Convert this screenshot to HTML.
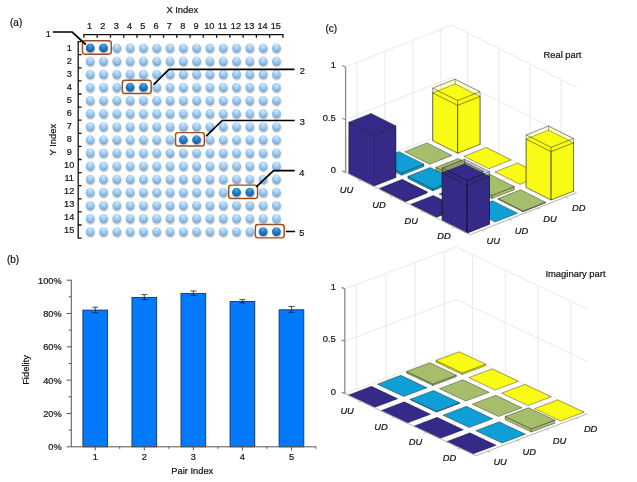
<!DOCTYPE html>
<html lang="en"><head><meta charset="utf-8"><title>Figure</title>
<style>html,body{margin:0;padding:0;background:#fff}body{width:637px;height:482px;overflow:hidden}svg{display:block;font-family:'Liberation Sans', Arial, sans-serif;filter:blur(0.32px)}text{stroke:#151515;stroke-width:0.22px}</style>
</head><body>
<svg width="637" height="482" viewBox="0 0 637 482">
<defs>
<radialGradient id="sl" cx="0.5" cy="0.32" r="0.72" fx="0.5" fy="0.2"><stop offset="0" stop-color="#d2e8fa"/><stop offset="0.4" stop-color="#a9d1f2"/><stop offset="0.75" stop-color="#86bbe9"/><stop offset="1" stop-color="#5f9bd4"/></radialGradient>
<radialGradient id="sd" cx="0.5" cy="0.32" r="0.72" fx="0.5" fy="0.2"><stop offset="0" stop-color="#5aa8e2"/><stop offset="0.4" stop-color="#2c82cc"/><stop offset="0.75" stop-color="#1a69b3"/><stop offset="1" stop-color="#124f8e"/></radialGradient>
<radialGradient id="shd" cx="0.5" cy="0.5" r="0.5"><stop offset="0" stop-color="#000" stop-opacity="0.45"/><stop offset="0.6" stop-color="#000" stop-opacity="0.25"/><stop offset="1" stop-color="#000" stop-opacity="0"/></radialGradient>
</defs>
<rect width="637" height="482" fill="#fff"/>
<g id="panel-a">
<text x="10" y="25.8" font-size="10" text-anchor="start" fill="#151515">(a)</text>
<text x="182.3" y="12.9" font-size="9.4" text-anchor="middle" fill="#151515">X Index</text>
<text x="56.2" y="139.6" font-size="9.4" text-anchor="middle" fill="#151515" transform="rotate(-90 56.2 139.6)">Y Index</text>
<path d="M83.3 34.6H283.55M83.9 34.6V37.8M97.17 34.6V37.8M110.44 34.6V37.8M123.71 34.6V37.8M136.98 34.6V37.8M150.25 34.6V37.8M163.52 34.6V37.8M176.79 34.6V37.8M190.06 34.6V37.8M203.33 34.6V37.8M216.6 34.6V37.8M229.87 34.6V37.8M243.14 34.6V37.8M256.41 34.6V37.8M269.68 34.6V37.8M282.95 34.6V37.8M78.2 41V238.7M78.2 41.6H81.6M78.2 54.7H81.6M78.2 67.8H81.6M78.2 80.9H81.6M78.2 94H81.6M78.2 107.1H81.6M78.2 120.2H81.6M78.2 133.3H81.6M78.2 146.4H81.6M78.2 159.5H81.6M78.2 172.6H81.6M78.2 185.7H81.6M78.2 198.8H81.6M78.2 211.9H81.6M78.2 225H81.6M78.2 238.1H81.6" stroke="#111" stroke-width="1.3" fill="none"/>
<text x="89.6" y="28.5" font-size="9.2" text-anchor="middle" fill="#151515">1</text>
<text x="69.2" y="51" font-size="9.2" text-anchor="middle" fill="#151515">1</text>
<text x="102.9" y="28.5" font-size="9.2" text-anchor="middle" fill="#151515">2</text>
<text x="69.2" y="64.02" font-size="9.2" text-anchor="middle" fill="#151515">2</text>
<text x="116.2" y="28.5" font-size="9.2" text-anchor="middle" fill="#151515">3</text>
<text x="69.2" y="77.04" font-size="9.2" text-anchor="middle" fill="#151515">3</text>
<text x="129.5" y="28.5" font-size="9.2" text-anchor="middle" fill="#151515">4</text>
<text x="69.2" y="90.06" font-size="9.2" text-anchor="middle" fill="#151515">4</text>
<text x="142.8" y="28.5" font-size="9.2" text-anchor="middle" fill="#151515">5</text>
<text x="69.2" y="103.08" font-size="9.2" text-anchor="middle" fill="#151515">5</text>
<text x="156.1" y="28.5" font-size="9.2" text-anchor="middle" fill="#151515">6</text>
<text x="69.2" y="116.1" font-size="9.2" text-anchor="middle" fill="#151515">6</text>
<text x="169.4" y="28.5" font-size="9.2" text-anchor="middle" fill="#151515">7</text>
<text x="69.2" y="129.12" font-size="9.2" text-anchor="middle" fill="#151515">7</text>
<text x="182.7" y="28.5" font-size="9.2" text-anchor="middle" fill="#151515">8</text>
<text x="69.2" y="142.14" font-size="9.2" text-anchor="middle" fill="#151515">8</text>
<text x="196" y="28.5" font-size="9.2" text-anchor="middle" fill="#151515">9</text>
<text x="69.2" y="155.16" font-size="9.2" text-anchor="middle" fill="#151515">9</text>
<text x="209.3" y="28.5" font-size="9.2" text-anchor="middle" fill="#151515">10</text>
<text x="69.2" y="168.18" font-size="9.2" text-anchor="middle" fill="#151515">10</text>
<text x="222.6" y="28.5" font-size="9.2" text-anchor="middle" fill="#151515">11</text>
<text x="69.2" y="181.2" font-size="9.2" text-anchor="middle" fill="#151515">11</text>
<text x="235.9" y="28.5" font-size="9.2" text-anchor="middle" fill="#151515">12</text>
<text x="69.2" y="194.22" font-size="9.2" text-anchor="middle" fill="#151515">12</text>
<text x="249.2" y="28.5" font-size="9.2" text-anchor="middle" fill="#151515">13</text>
<text x="69.2" y="207.24" font-size="9.2" text-anchor="middle" fill="#151515">13</text>
<text x="262.5" y="28.5" font-size="9.2" text-anchor="middle" fill="#151515">14</text>
<text x="69.2" y="220.26" font-size="9.2" text-anchor="middle" fill="#151515">14</text>
<text x="275.8" y="28.5" font-size="9.2" text-anchor="middle" fill="#151515">15</text>
<text x="69.2" y="233.28" font-size="9.2" text-anchor="middle" fill="#151515">15</text>
<circle cx="90.5" cy="49.5" r="5.5" fill="url(#shd)"/>
<circle cx="103.8" cy="49.5" r="5.5" fill="url(#shd)"/>
<circle cx="117.1" cy="49.5" r="5.5" fill="url(#shd)"/>
<circle cx="130.4" cy="49.5" r="5.5" fill="url(#shd)"/>
<circle cx="143.7" cy="49.5" r="5.5" fill="url(#shd)"/>
<circle cx="157" cy="49.5" r="5.5" fill="url(#shd)"/>
<circle cx="170.3" cy="49.5" r="5.5" fill="url(#shd)"/>
<circle cx="183.6" cy="49.5" r="5.5" fill="url(#shd)"/>
<circle cx="196.9" cy="49.5" r="5.5" fill="url(#shd)"/>
<circle cx="210.2" cy="49.5" r="5.5" fill="url(#shd)"/>
<circle cx="223.5" cy="49.5" r="5.5" fill="url(#shd)"/>
<circle cx="236.8" cy="49.5" r="5.5" fill="url(#shd)"/>
<circle cx="250.1" cy="49.5" r="5.5" fill="url(#shd)"/>
<circle cx="263.4" cy="49.5" r="5.5" fill="url(#shd)"/>
<circle cx="276.7" cy="49.5" r="5.5" fill="url(#shd)"/>
<circle cx="90.5" cy="62.62" r="5.5" fill="url(#shd)"/>
<circle cx="103.8" cy="62.62" r="5.5" fill="url(#shd)"/>
<circle cx="117.1" cy="62.62" r="5.5" fill="url(#shd)"/>
<circle cx="130.4" cy="62.62" r="5.5" fill="url(#shd)"/>
<circle cx="143.7" cy="62.62" r="5.5" fill="url(#shd)"/>
<circle cx="157" cy="62.62" r="5.5" fill="url(#shd)"/>
<circle cx="170.3" cy="62.62" r="5.5" fill="url(#shd)"/>
<circle cx="183.6" cy="62.62" r="5.5" fill="url(#shd)"/>
<circle cx="196.9" cy="62.62" r="5.5" fill="url(#shd)"/>
<circle cx="210.2" cy="62.62" r="5.5" fill="url(#shd)"/>
<circle cx="223.5" cy="62.62" r="5.5" fill="url(#shd)"/>
<circle cx="236.8" cy="62.62" r="5.5" fill="url(#shd)"/>
<circle cx="250.1" cy="62.62" r="5.5" fill="url(#shd)"/>
<circle cx="263.4" cy="62.62" r="5.5" fill="url(#shd)"/>
<circle cx="276.7" cy="62.62" r="5.5" fill="url(#shd)"/>
<circle cx="90.5" cy="75.74" r="5.5" fill="url(#shd)"/>
<circle cx="103.8" cy="75.74" r="5.5" fill="url(#shd)"/>
<circle cx="117.1" cy="75.74" r="5.5" fill="url(#shd)"/>
<circle cx="130.4" cy="75.74" r="5.5" fill="url(#shd)"/>
<circle cx="143.7" cy="75.74" r="5.5" fill="url(#shd)"/>
<circle cx="157" cy="75.74" r="5.5" fill="url(#shd)"/>
<circle cx="170.3" cy="75.74" r="5.5" fill="url(#shd)"/>
<circle cx="183.6" cy="75.74" r="5.5" fill="url(#shd)"/>
<circle cx="196.9" cy="75.74" r="5.5" fill="url(#shd)"/>
<circle cx="210.2" cy="75.74" r="5.5" fill="url(#shd)"/>
<circle cx="223.5" cy="75.74" r="5.5" fill="url(#shd)"/>
<circle cx="236.8" cy="75.74" r="5.5" fill="url(#shd)"/>
<circle cx="250.1" cy="75.74" r="5.5" fill="url(#shd)"/>
<circle cx="263.4" cy="75.74" r="5.5" fill="url(#shd)"/>
<circle cx="276.7" cy="75.74" r="5.5" fill="url(#shd)"/>
<circle cx="90.5" cy="88.86" r="5.5" fill="url(#shd)"/>
<circle cx="103.8" cy="88.86" r="5.5" fill="url(#shd)"/>
<circle cx="117.1" cy="88.86" r="5.5" fill="url(#shd)"/>
<circle cx="130.4" cy="88.86" r="5.5" fill="url(#shd)"/>
<circle cx="143.7" cy="88.86" r="5.5" fill="url(#shd)"/>
<circle cx="157" cy="88.86" r="5.5" fill="url(#shd)"/>
<circle cx="170.3" cy="88.86" r="5.5" fill="url(#shd)"/>
<circle cx="183.6" cy="88.86" r="5.5" fill="url(#shd)"/>
<circle cx="196.9" cy="88.86" r="5.5" fill="url(#shd)"/>
<circle cx="210.2" cy="88.86" r="5.5" fill="url(#shd)"/>
<circle cx="223.5" cy="88.86" r="5.5" fill="url(#shd)"/>
<circle cx="236.8" cy="88.86" r="5.5" fill="url(#shd)"/>
<circle cx="250.1" cy="88.86" r="5.5" fill="url(#shd)"/>
<circle cx="263.4" cy="88.86" r="5.5" fill="url(#shd)"/>
<circle cx="276.7" cy="88.86" r="5.5" fill="url(#shd)"/>
<circle cx="90.5" cy="101.98" r="5.5" fill="url(#shd)"/>
<circle cx="103.8" cy="101.98" r="5.5" fill="url(#shd)"/>
<circle cx="117.1" cy="101.98" r="5.5" fill="url(#shd)"/>
<circle cx="130.4" cy="101.98" r="5.5" fill="url(#shd)"/>
<circle cx="143.7" cy="101.98" r="5.5" fill="url(#shd)"/>
<circle cx="157" cy="101.98" r="5.5" fill="url(#shd)"/>
<circle cx="170.3" cy="101.98" r="5.5" fill="url(#shd)"/>
<circle cx="183.6" cy="101.98" r="5.5" fill="url(#shd)"/>
<circle cx="196.9" cy="101.98" r="5.5" fill="url(#shd)"/>
<circle cx="210.2" cy="101.98" r="5.5" fill="url(#shd)"/>
<circle cx="223.5" cy="101.98" r="5.5" fill="url(#shd)"/>
<circle cx="236.8" cy="101.98" r="5.5" fill="url(#shd)"/>
<circle cx="250.1" cy="101.98" r="5.5" fill="url(#shd)"/>
<circle cx="263.4" cy="101.98" r="5.5" fill="url(#shd)"/>
<circle cx="276.7" cy="101.98" r="5.5" fill="url(#shd)"/>
<circle cx="90.5" cy="115.1" r="5.5" fill="url(#shd)"/>
<circle cx="103.8" cy="115.1" r="5.5" fill="url(#shd)"/>
<circle cx="117.1" cy="115.1" r="5.5" fill="url(#shd)"/>
<circle cx="130.4" cy="115.1" r="5.5" fill="url(#shd)"/>
<circle cx="143.7" cy="115.1" r="5.5" fill="url(#shd)"/>
<circle cx="157" cy="115.1" r="5.5" fill="url(#shd)"/>
<circle cx="170.3" cy="115.1" r="5.5" fill="url(#shd)"/>
<circle cx="183.6" cy="115.1" r="5.5" fill="url(#shd)"/>
<circle cx="196.9" cy="115.1" r="5.5" fill="url(#shd)"/>
<circle cx="210.2" cy="115.1" r="5.5" fill="url(#shd)"/>
<circle cx="223.5" cy="115.1" r="5.5" fill="url(#shd)"/>
<circle cx="236.8" cy="115.1" r="5.5" fill="url(#shd)"/>
<circle cx="250.1" cy="115.1" r="5.5" fill="url(#shd)"/>
<circle cx="263.4" cy="115.1" r="5.5" fill="url(#shd)"/>
<circle cx="276.7" cy="115.1" r="5.5" fill="url(#shd)"/>
<circle cx="90.5" cy="128.22" r="5.5" fill="url(#shd)"/>
<circle cx="103.8" cy="128.22" r="5.5" fill="url(#shd)"/>
<circle cx="117.1" cy="128.22" r="5.5" fill="url(#shd)"/>
<circle cx="130.4" cy="128.22" r="5.5" fill="url(#shd)"/>
<circle cx="143.7" cy="128.22" r="5.5" fill="url(#shd)"/>
<circle cx="157" cy="128.22" r="5.5" fill="url(#shd)"/>
<circle cx="170.3" cy="128.22" r="5.5" fill="url(#shd)"/>
<circle cx="183.6" cy="128.22" r="5.5" fill="url(#shd)"/>
<circle cx="196.9" cy="128.22" r="5.5" fill="url(#shd)"/>
<circle cx="210.2" cy="128.22" r="5.5" fill="url(#shd)"/>
<circle cx="223.5" cy="128.22" r="5.5" fill="url(#shd)"/>
<circle cx="236.8" cy="128.22" r="5.5" fill="url(#shd)"/>
<circle cx="250.1" cy="128.22" r="5.5" fill="url(#shd)"/>
<circle cx="263.4" cy="128.22" r="5.5" fill="url(#shd)"/>
<circle cx="276.7" cy="128.22" r="5.5" fill="url(#shd)"/>
<circle cx="90.5" cy="141.34" r="5.5" fill="url(#shd)"/>
<circle cx="103.8" cy="141.34" r="5.5" fill="url(#shd)"/>
<circle cx="117.1" cy="141.34" r="5.5" fill="url(#shd)"/>
<circle cx="130.4" cy="141.34" r="5.5" fill="url(#shd)"/>
<circle cx="143.7" cy="141.34" r="5.5" fill="url(#shd)"/>
<circle cx="157" cy="141.34" r="5.5" fill="url(#shd)"/>
<circle cx="170.3" cy="141.34" r="5.5" fill="url(#shd)"/>
<circle cx="183.6" cy="141.34" r="5.5" fill="url(#shd)"/>
<circle cx="196.9" cy="141.34" r="5.5" fill="url(#shd)"/>
<circle cx="210.2" cy="141.34" r="5.5" fill="url(#shd)"/>
<circle cx="223.5" cy="141.34" r="5.5" fill="url(#shd)"/>
<circle cx="236.8" cy="141.34" r="5.5" fill="url(#shd)"/>
<circle cx="250.1" cy="141.34" r="5.5" fill="url(#shd)"/>
<circle cx="263.4" cy="141.34" r="5.5" fill="url(#shd)"/>
<circle cx="276.7" cy="141.34" r="5.5" fill="url(#shd)"/>
<circle cx="90.5" cy="154.46" r="5.5" fill="url(#shd)"/>
<circle cx="103.8" cy="154.46" r="5.5" fill="url(#shd)"/>
<circle cx="117.1" cy="154.46" r="5.5" fill="url(#shd)"/>
<circle cx="130.4" cy="154.46" r="5.5" fill="url(#shd)"/>
<circle cx="143.7" cy="154.46" r="5.5" fill="url(#shd)"/>
<circle cx="157" cy="154.46" r="5.5" fill="url(#shd)"/>
<circle cx="170.3" cy="154.46" r="5.5" fill="url(#shd)"/>
<circle cx="183.6" cy="154.46" r="5.5" fill="url(#shd)"/>
<circle cx="196.9" cy="154.46" r="5.5" fill="url(#shd)"/>
<circle cx="210.2" cy="154.46" r="5.5" fill="url(#shd)"/>
<circle cx="223.5" cy="154.46" r="5.5" fill="url(#shd)"/>
<circle cx="236.8" cy="154.46" r="5.5" fill="url(#shd)"/>
<circle cx="250.1" cy="154.46" r="5.5" fill="url(#shd)"/>
<circle cx="263.4" cy="154.46" r="5.5" fill="url(#shd)"/>
<circle cx="276.7" cy="154.46" r="5.5" fill="url(#shd)"/>
<circle cx="90.5" cy="167.58" r="5.5" fill="url(#shd)"/>
<circle cx="103.8" cy="167.58" r="5.5" fill="url(#shd)"/>
<circle cx="117.1" cy="167.58" r="5.5" fill="url(#shd)"/>
<circle cx="130.4" cy="167.58" r="5.5" fill="url(#shd)"/>
<circle cx="143.7" cy="167.58" r="5.5" fill="url(#shd)"/>
<circle cx="157" cy="167.58" r="5.5" fill="url(#shd)"/>
<circle cx="170.3" cy="167.58" r="5.5" fill="url(#shd)"/>
<circle cx="183.6" cy="167.58" r="5.5" fill="url(#shd)"/>
<circle cx="196.9" cy="167.58" r="5.5" fill="url(#shd)"/>
<circle cx="210.2" cy="167.58" r="5.5" fill="url(#shd)"/>
<circle cx="223.5" cy="167.58" r="5.5" fill="url(#shd)"/>
<circle cx="236.8" cy="167.58" r="5.5" fill="url(#shd)"/>
<circle cx="250.1" cy="167.58" r="5.5" fill="url(#shd)"/>
<circle cx="263.4" cy="167.58" r="5.5" fill="url(#shd)"/>
<circle cx="276.7" cy="167.58" r="5.5" fill="url(#shd)"/>
<circle cx="90.5" cy="180.7" r="5.5" fill="url(#shd)"/>
<circle cx="103.8" cy="180.7" r="5.5" fill="url(#shd)"/>
<circle cx="117.1" cy="180.7" r="5.5" fill="url(#shd)"/>
<circle cx="130.4" cy="180.7" r="5.5" fill="url(#shd)"/>
<circle cx="143.7" cy="180.7" r="5.5" fill="url(#shd)"/>
<circle cx="157" cy="180.7" r="5.5" fill="url(#shd)"/>
<circle cx="170.3" cy="180.7" r="5.5" fill="url(#shd)"/>
<circle cx="183.6" cy="180.7" r="5.5" fill="url(#shd)"/>
<circle cx="196.9" cy="180.7" r="5.5" fill="url(#shd)"/>
<circle cx="210.2" cy="180.7" r="5.5" fill="url(#shd)"/>
<circle cx="223.5" cy="180.7" r="5.5" fill="url(#shd)"/>
<circle cx="236.8" cy="180.7" r="5.5" fill="url(#shd)"/>
<circle cx="250.1" cy="180.7" r="5.5" fill="url(#shd)"/>
<circle cx="263.4" cy="180.7" r="5.5" fill="url(#shd)"/>
<circle cx="276.7" cy="180.7" r="5.5" fill="url(#shd)"/>
<circle cx="90.5" cy="193.82" r="5.5" fill="url(#shd)"/>
<circle cx="103.8" cy="193.82" r="5.5" fill="url(#shd)"/>
<circle cx="117.1" cy="193.82" r="5.5" fill="url(#shd)"/>
<circle cx="130.4" cy="193.82" r="5.5" fill="url(#shd)"/>
<circle cx="143.7" cy="193.82" r="5.5" fill="url(#shd)"/>
<circle cx="157" cy="193.82" r="5.5" fill="url(#shd)"/>
<circle cx="170.3" cy="193.82" r="5.5" fill="url(#shd)"/>
<circle cx="183.6" cy="193.82" r="5.5" fill="url(#shd)"/>
<circle cx="196.9" cy="193.82" r="5.5" fill="url(#shd)"/>
<circle cx="210.2" cy="193.82" r="5.5" fill="url(#shd)"/>
<circle cx="223.5" cy="193.82" r="5.5" fill="url(#shd)"/>
<circle cx="236.8" cy="193.82" r="5.5" fill="url(#shd)"/>
<circle cx="250.1" cy="193.82" r="5.5" fill="url(#shd)"/>
<circle cx="263.4" cy="193.82" r="5.5" fill="url(#shd)"/>
<circle cx="276.7" cy="193.82" r="5.5" fill="url(#shd)"/>
<circle cx="90.5" cy="206.94" r="5.5" fill="url(#shd)"/>
<circle cx="103.8" cy="206.94" r="5.5" fill="url(#shd)"/>
<circle cx="117.1" cy="206.94" r="5.5" fill="url(#shd)"/>
<circle cx="130.4" cy="206.94" r="5.5" fill="url(#shd)"/>
<circle cx="143.7" cy="206.94" r="5.5" fill="url(#shd)"/>
<circle cx="157" cy="206.94" r="5.5" fill="url(#shd)"/>
<circle cx="170.3" cy="206.94" r="5.5" fill="url(#shd)"/>
<circle cx="183.6" cy="206.94" r="5.5" fill="url(#shd)"/>
<circle cx="196.9" cy="206.94" r="5.5" fill="url(#shd)"/>
<circle cx="210.2" cy="206.94" r="5.5" fill="url(#shd)"/>
<circle cx="223.5" cy="206.94" r="5.5" fill="url(#shd)"/>
<circle cx="236.8" cy="206.94" r="5.5" fill="url(#shd)"/>
<circle cx="250.1" cy="206.94" r="5.5" fill="url(#shd)"/>
<circle cx="263.4" cy="206.94" r="5.5" fill="url(#shd)"/>
<circle cx="276.7" cy="206.94" r="5.5" fill="url(#shd)"/>
<circle cx="90.5" cy="220.06" r="5.5" fill="url(#shd)"/>
<circle cx="103.8" cy="220.06" r="5.5" fill="url(#shd)"/>
<circle cx="117.1" cy="220.06" r="5.5" fill="url(#shd)"/>
<circle cx="130.4" cy="220.06" r="5.5" fill="url(#shd)"/>
<circle cx="143.7" cy="220.06" r="5.5" fill="url(#shd)"/>
<circle cx="157" cy="220.06" r="5.5" fill="url(#shd)"/>
<circle cx="170.3" cy="220.06" r="5.5" fill="url(#shd)"/>
<circle cx="183.6" cy="220.06" r="5.5" fill="url(#shd)"/>
<circle cx="196.9" cy="220.06" r="5.5" fill="url(#shd)"/>
<circle cx="210.2" cy="220.06" r="5.5" fill="url(#shd)"/>
<circle cx="223.5" cy="220.06" r="5.5" fill="url(#shd)"/>
<circle cx="236.8" cy="220.06" r="5.5" fill="url(#shd)"/>
<circle cx="250.1" cy="220.06" r="5.5" fill="url(#shd)"/>
<circle cx="263.4" cy="220.06" r="5.5" fill="url(#shd)"/>
<circle cx="276.7" cy="220.06" r="5.5" fill="url(#shd)"/>
<circle cx="90.5" cy="233.18" r="5.5" fill="url(#shd)"/>
<circle cx="103.8" cy="233.18" r="5.5" fill="url(#shd)"/>
<circle cx="117.1" cy="233.18" r="5.5" fill="url(#shd)"/>
<circle cx="130.4" cy="233.18" r="5.5" fill="url(#shd)"/>
<circle cx="143.7" cy="233.18" r="5.5" fill="url(#shd)"/>
<circle cx="157" cy="233.18" r="5.5" fill="url(#shd)"/>
<circle cx="170.3" cy="233.18" r="5.5" fill="url(#shd)"/>
<circle cx="183.6" cy="233.18" r="5.5" fill="url(#shd)"/>
<circle cx="196.9" cy="233.18" r="5.5" fill="url(#shd)"/>
<circle cx="210.2" cy="233.18" r="5.5" fill="url(#shd)"/>
<circle cx="223.5" cy="233.18" r="5.5" fill="url(#shd)"/>
<circle cx="236.8" cy="233.18" r="5.5" fill="url(#shd)"/>
<circle cx="250.1" cy="233.18" r="5.5" fill="url(#shd)"/>
<circle cx="263.4" cy="233.18" r="5.5" fill="url(#shd)"/>
<circle cx="276.7" cy="233.18" r="5.5" fill="url(#shd)"/>
<circle cx="90.2" cy="47.9" r="4.4" fill="url(#sd)"/>
<circle cx="103.5" cy="47.9" r="4.4" fill="url(#sd)"/>
<circle cx="116.8" cy="47.9" r="4.4" fill="url(#sl)"/>
<circle cx="130.1" cy="47.9" r="4.4" fill="url(#sl)"/>
<circle cx="143.4" cy="47.9" r="4.4" fill="url(#sl)"/>
<circle cx="156.7" cy="47.9" r="4.4" fill="url(#sl)"/>
<circle cx="170" cy="47.9" r="4.4" fill="url(#sl)"/>
<circle cx="183.3" cy="47.9" r="4.4" fill="url(#sl)"/>
<circle cx="196.6" cy="47.9" r="4.4" fill="url(#sl)"/>
<circle cx="209.9" cy="47.9" r="4.4" fill="url(#sl)"/>
<circle cx="223.2" cy="47.9" r="4.4" fill="url(#sl)"/>
<circle cx="236.5" cy="47.9" r="4.4" fill="url(#sl)"/>
<circle cx="249.8" cy="47.9" r="4.4" fill="url(#sl)"/>
<circle cx="263.1" cy="47.9" r="4.4" fill="url(#sl)"/>
<circle cx="276.4" cy="47.9" r="4.4" fill="url(#sl)"/>
<circle cx="90.2" cy="61.02" r="4.4" fill="url(#sl)"/>
<circle cx="103.5" cy="61.02" r="4.4" fill="url(#sl)"/>
<circle cx="116.8" cy="61.02" r="4.4" fill="url(#sl)"/>
<circle cx="130.1" cy="61.02" r="4.4" fill="url(#sl)"/>
<circle cx="143.4" cy="61.02" r="4.4" fill="url(#sl)"/>
<circle cx="156.7" cy="61.02" r="4.4" fill="url(#sl)"/>
<circle cx="170" cy="61.02" r="4.4" fill="url(#sl)"/>
<circle cx="183.3" cy="61.02" r="4.4" fill="url(#sl)"/>
<circle cx="196.6" cy="61.02" r="4.4" fill="url(#sl)"/>
<circle cx="209.9" cy="61.02" r="4.4" fill="url(#sl)"/>
<circle cx="223.2" cy="61.02" r="4.4" fill="url(#sl)"/>
<circle cx="236.5" cy="61.02" r="4.4" fill="url(#sl)"/>
<circle cx="249.8" cy="61.02" r="4.4" fill="url(#sl)"/>
<circle cx="263.1" cy="61.02" r="4.4" fill="url(#sl)"/>
<circle cx="276.4" cy="61.02" r="4.4" fill="url(#sl)"/>
<circle cx="90.2" cy="74.14" r="4.4" fill="url(#sl)"/>
<circle cx="103.5" cy="74.14" r="4.4" fill="url(#sl)"/>
<circle cx="116.8" cy="74.14" r="4.4" fill="url(#sl)"/>
<circle cx="130.1" cy="74.14" r="4.4" fill="url(#sl)"/>
<circle cx="143.4" cy="74.14" r="4.4" fill="url(#sl)"/>
<circle cx="156.7" cy="74.14" r="4.4" fill="url(#sl)"/>
<circle cx="170" cy="74.14" r="4.4" fill="url(#sl)"/>
<circle cx="183.3" cy="74.14" r="4.4" fill="url(#sl)"/>
<circle cx="196.6" cy="74.14" r="4.4" fill="url(#sl)"/>
<circle cx="209.9" cy="74.14" r="4.4" fill="url(#sl)"/>
<circle cx="223.2" cy="74.14" r="4.4" fill="url(#sl)"/>
<circle cx="236.5" cy="74.14" r="4.4" fill="url(#sl)"/>
<circle cx="249.8" cy="74.14" r="4.4" fill="url(#sl)"/>
<circle cx="263.1" cy="74.14" r="4.4" fill="url(#sl)"/>
<circle cx="276.4" cy="74.14" r="4.4" fill="url(#sl)"/>
<circle cx="90.2" cy="87.26" r="4.4" fill="url(#sl)"/>
<circle cx="103.5" cy="87.26" r="4.4" fill="url(#sl)"/>
<circle cx="116.8" cy="87.26" r="4.4" fill="url(#sl)"/>
<circle cx="130.1" cy="87.26" r="4.4" fill="url(#sd)"/>
<circle cx="143.4" cy="87.26" r="4.4" fill="url(#sd)"/>
<circle cx="156.7" cy="87.26" r="4.4" fill="url(#sl)"/>
<circle cx="170" cy="87.26" r="4.4" fill="url(#sl)"/>
<circle cx="183.3" cy="87.26" r="4.4" fill="url(#sl)"/>
<circle cx="196.6" cy="87.26" r="4.4" fill="url(#sl)"/>
<circle cx="209.9" cy="87.26" r="4.4" fill="url(#sl)"/>
<circle cx="223.2" cy="87.26" r="4.4" fill="url(#sl)"/>
<circle cx="236.5" cy="87.26" r="4.4" fill="url(#sl)"/>
<circle cx="249.8" cy="87.26" r="4.4" fill="url(#sl)"/>
<circle cx="263.1" cy="87.26" r="4.4" fill="url(#sl)"/>
<circle cx="276.4" cy="87.26" r="4.4" fill="url(#sl)"/>
<circle cx="90.2" cy="100.38" r="4.4" fill="url(#sl)"/>
<circle cx="103.5" cy="100.38" r="4.4" fill="url(#sl)"/>
<circle cx="116.8" cy="100.38" r="4.4" fill="url(#sl)"/>
<circle cx="130.1" cy="100.38" r="4.4" fill="url(#sl)"/>
<circle cx="143.4" cy="100.38" r="4.4" fill="url(#sl)"/>
<circle cx="156.7" cy="100.38" r="4.4" fill="url(#sl)"/>
<circle cx="170" cy="100.38" r="4.4" fill="url(#sl)"/>
<circle cx="183.3" cy="100.38" r="4.4" fill="url(#sl)"/>
<circle cx="196.6" cy="100.38" r="4.4" fill="url(#sl)"/>
<circle cx="209.9" cy="100.38" r="4.4" fill="url(#sl)"/>
<circle cx="223.2" cy="100.38" r="4.4" fill="url(#sl)"/>
<circle cx="236.5" cy="100.38" r="4.4" fill="url(#sl)"/>
<circle cx="249.8" cy="100.38" r="4.4" fill="url(#sl)"/>
<circle cx="263.1" cy="100.38" r="4.4" fill="url(#sl)"/>
<circle cx="276.4" cy="100.38" r="4.4" fill="url(#sl)"/>
<circle cx="90.2" cy="113.5" r="4.4" fill="url(#sl)"/>
<circle cx="103.5" cy="113.5" r="4.4" fill="url(#sl)"/>
<circle cx="116.8" cy="113.5" r="4.4" fill="url(#sl)"/>
<circle cx="130.1" cy="113.5" r="4.4" fill="url(#sl)"/>
<circle cx="143.4" cy="113.5" r="4.4" fill="url(#sl)"/>
<circle cx="156.7" cy="113.5" r="4.4" fill="url(#sl)"/>
<circle cx="170" cy="113.5" r="4.4" fill="url(#sl)"/>
<circle cx="183.3" cy="113.5" r="4.4" fill="url(#sl)"/>
<circle cx="196.6" cy="113.5" r="4.4" fill="url(#sl)"/>
<circle cx="209.9" cy="113.5" r="4.4" fill="url(#sl)"/>
<circle cx="223.2" cy="113.5" r="4.4" fill="url(#sl)"/>
<circle cx="236.5" cy="113.5" r="4.4" fill="url(#sl)"/>
<circle cx="249.8" cy="113.5" r="4.4" fill="url(#sl)"/>
<circle cx="263.1" cy="113.5" r="4.4" fill="url(#sl)"/>
<circle cx="276.4" cy="113.5" r="4.4" fill="url(#sl)"/>
<circle cx="90.2" cy="126.62" r="4.4" fill="url(#sl)"/>
<circle cx="103.5" cy="126.62" r="4.4" fill="url(#sl)"/>
<circle cx="116.8" cy="126.62" r="4.4" fill="url(#sl)"/>
<circle cx="130.1" cy="126.62" r="4.4" fill="url(#sl)"/>
<circle cx="143.4" cy="126.62" r="4.4" fill="url(#sl)"/>
<circle cx="156.7" cy="126.62" r="4.4" fill="url(#sl)"/>
<circle cx="170" cy="126.62" r="4.4" fill="url(#sl)"/>
<circle cx="183.3" cy="126.62" r="4.4" fill="url(#sl)"/>
<circle cx="196.6" cy="126.62" r="4.4" fill="url(#sl)"/>
<circle cx="209.9" cy="126.62" r="4.4" fill="url(#sl)"/>
<circle cx="223.2" cy="126.62" r="4.4" fill="url(#sl)"/>
<circle cx="236.5" cy="126.62" r="4.4" fill="url(#sl)"/>
<circle cx="249.8" cy="126.62" r="4.4" fill="url(#sl)"/>
<circle cx="263.1" cy="126.62" r="4.4" fill="url(#sl)"/>
<circle cx="276.4" cy="126.62" r="4.4" fill="url(#sl)"/>
<circle cx="90.2" cy="139.74" r="4.4" fill="url(#sl)"/>
<circle cx="103.5" cy="139.74" r="4.4" fill="url(#sl)"/>
<circle cx="116.8" cy="139.74" r="4.4" fill="url(#sl)"/>
<circle cx="130.1" cy="139.74" r="4.4" fill="url(#sl)"/>
<circle cx="143.4" cy="139.74" r="4.4" fill="url(#sl)"/>
<circle cx="156.7" cy="139.74" r="4.4" fill="url(#sl)"/>
<circle cx="170" cy="139.74" r="4.4" fill="url(#sl)"/>
<circle cx="183.3" cy="139.74" r="4.4" fill="url(#sd)"/>
<circle cx="196.6" cy="139.74" r="4.4" fill="url(#sd)"/>
<circle cx="209.9" cy="139.74" r="4.4" fill="url(#sl)"/>
<circle cx="223.2" cy="139.74" r="4.4" fill="url(#sl)"/>
<circle cx="236.5" cy="139.74" r="4.4" fill="url(#sl)"/>
<circle cx="249.8" cy="139.74" r="4.4" fill="url(#sl)"/>
<circle cx="263.1" cy="139.74" r="4.4" fill="url(#sl)"/>
<circle cx="276.4" cy="139.74" r="4.4" fill="url(#sl)"/>
<circle cx="90.2" cy="152.86" r="4.4" fill="url(#sl)"/>
<circle cx="103.5" cy="152.86" r="4.4" fill="url(#sl)"/>
<circle cx="116.8" cy="152.86" r="4.4" fill="url(#sl)"/>
<circle cx="130.1" cy="152.86" r="4.4" fill="url(#sl)"/>
<circle cx="143.4" cy="152.86" r="4.4" fill="url(#sl)"/>
<circle cx="156.7" cy="152.86" r="4.4" fill="url(#sl)"/>
<circle cx="170" cy="152.86" r="4.4" fill="url(#sl)"/>
<circle cx="183.3" cy="152.86" r="4.4" fill="url(#sl)"/>
<circle cx="196.6" cy="152.86" r="4.4" fill="url(#sl)"/>
<circle cx="209.9" cy="152.86" r="4.4" fill="url(#sl)"/>
<circle cx="223.2" cy="152.86" r="4.4" fill="url(#sl)"/>
<circle cx="236.5" cy="152.86" r="4.4" fill="url(#sl)"/>
<circle cx="249.8" cy="152.86" r="4.4" fill="url(#sl)"/>
<circle cx="263.1" cy="152.86" r="4.4" fill="url(#sl)"/>
<circle cx="276.4" cy="152.86" r="4.4" fill="url(#sl)"/>
<circle cx="90.2" cy="165.98" r="4.4" fill="url(#sl)"/>
<circle cx="103.5" cy="165.98" r="4.4" fill="url(#sl)"/>
<circle cx="116.8" cy="165.98" r="4.4" fill="url(#sl)"/>
<circle cx="130.1" cy="165.98" r="4.4" fill="url(#sl)"/>
<circle cx="143.4" cy="165.98" r="4.4" fill="url(#sl)"/>
<circle cx="156.7" cy="165.98" r="4.4" fill="url(#sl)"/>
<circle cx="170" cy="165.98" r="4.4" fill="url(#sl)"/>
<circle cx="183.3" cy="165.98" r="4.4" fill="url(#sl)"/>
<circle cx="196.6" cy="165.98" r="4.4" fill="url(#sl)"/>
<circle cx="209.9" cy="165.98" r="4.4" fill="url(#sl)"/>
<circle cx="223.2" cy="165.98" r="4.4" fill="url(#sl)"/>
<circle cx="236.5" cy="165.98" r="4.4" fill="url(#sl)"/>
<circle cx="249.8" cy="165.98" r="4.4" fill="url(#sl)"/>
<circle cx="263.1" cy="165.98" r="4.4" fill="url(#sl)"/>
<circle cx="276.4" cy="165.98" r="4.4" fill="url(#sl)"/>
<circle cx="90.2" cy="179.1" r="4.4" fill="url(#sl)"/>
<circle cx="103.5" cy="179.1" r="4.4" fill="url(#sl)"/>
<circle cx="116.8" cy="179.1" r="4.4" fill="url(#sl)"/>
<circle cx="130.1" cy="179.1" r="4.4" fill="url(#sl)"/>
<circle cx="143.4" cy="179.1" r="4.4" fill="url(#sl)"/>
<circle cx="156.7" cy="179.1" r="4.4" fill="url(#sl)"/>
<circle cx="170" cy="179.1" r="4.4" fill="url(#sl)"/>
<circle cx="183.3" cy="179.1" r="4.4" fill="url(#sl)"/>
<circle cx="196.6" cy="179.1" r="4.4" fill="url(#sl)"/>
<circle cx="209.9" cy="179.1" r="4.4" fill="url(#sl)"/>
<circle cx="223.2" cy="179.1" r="4.4" fill="url(#sl)"/>
<circle cx="236.5" cy="179.1" r="4.4" fill="url(#sl)"/>
<circle cx="249.8" cy="179.1" r="4.4" fill="url(#sl)"/>
<circle cx="263.1" cy="179.1" r="4.4" fill="url(#sl)"/>
<circle cx="276.4" cy="179.1" r="4.4" fill="url(#sl)"/>
<circle cx="90.2" cy="192.22" r="4.4" fill="url(#sl)"/>
<circle cx="103.5" cy="192.22" r="4.4" fill="url(#sl)"/>
<circle cx="116.8" cy="192.22" r="4.4" fill="url(#sl)"/>
<circle cx="130.1" cy="192.22" r="4.4" fill="url(#sl)"/>
<circle cx="143.4" cy="192.22" r="4.4" fill="url(#sl)"/>
<circle cx="156.7" cy="192.22" r="4.4" fill="url(#sl)"/>
<circle cx="170" cy="192.22" r="4.4" fill="url(#sl)"/>
<circle cx="183.3" cy="192.22" r="4.4" fill="url(#sl)"/>
<circle cx="196.6" cy="192.22" r="4.4" fill="url(#sl)"/>
<circle cx="209.9" cy="192.22" r="4.4" fill="url(#sl)"/>
<circle cx="223.2" cy="192.22" r="4.4" fill="url(#sl)"/>
<circle cx="236.5" cy="192.22" r="4.4" fill="url(#sd)"/>
<circle cx="249.8" cy="192.22" r="4.4" fill="url(#sd)"/>
<circle cx="263.1" cy="192.22" r="4.4" fill="url(#sl)"/>
<circle cx="276.4" cy="192.22" r="4.4" fill="url(#sl)"/>
<circle cx="90.2" cy="205.34" r="4.4" fill="url(#sl)"/>
<circle cx="103.5" cy="205.34" r="4.4" fill="url(#sl)"/>
<circle cx="116.8" cy="205.34" r="4.4" fill="url(#sl)"/>
<circle cx="130.1" cy="205.34" r="4.4" fill="url(#sl)"/>
<circle cx="143.4" cy="205.34" r="4.4" fill="url(#sl)"/>
<circle cx="156.7" cy="205.34" r="4.4" fill="url(#sl)"/>
<circle cx="170" cy="205.34" r="4.4" fill="url(#sl)"/>
<circle cx="183.3" cy="205.34" r="4.4" fill="url(#sl)"/>
<circle cx="196.6" cy="205.34" r="4.4" fill="url(#sl)"/>
<circle cx="209.9" cy="205.34" r="4.4" fill="url(#sl)"/>
<circle cx="223.2" cy="205.34" r="4.4" fill="url(#sl)"/>
<circle cx="236.5" cy="205.34" r="4.4" fill="url(#sl)"/>
<circle cx="249.8" cy="205.34" r="4.4" fill="url(#sl)"/>
<circle cx="263.1" cy="205.34" r="4.4" fill="url(#sl)"/>
<circle cx="276.4" cy="205.34" r="4.4" fill="url(#sl)"/>
<circle cx="90.2" cy="218.46" r="4.4" fill="url(#sl)"/>
<circle cx="103.5" cy="218.46" r="4.4" fill="url(#sl)"/>
<circle cx="116.8" cy="218.46" r="4.4" fill="url(#sl)"/>
<circle cx="130.1" cy="218.46" r="4.4" fill="url(#sl)"/>
<circle cx="143.4" cy="218.46" r="4.4" fill="url(#sl)"/>
<circle cx="156.7" cy="218.46" r="4.4" fill="url(#sl)"/>
<circle cx="170" cy="218.46" r="4.4" fill="url(#sl)"/>
<circle cx="183.3" cy="218.46" r="4.4" fill="url(#sl)"/>
<circle cx="196.6" cy="218.46" r="4.4" fill="url(#sl)"/>
<circle cx="209.9" cy="218.46" r="4.4" fill="url(#sl)"/>
<circle cx="223.2" cy="218.46" r="4.4" fill="url(#sl)"/>
<circle cx="236.5" cy="218.46" r="4.4" fill="url(#sl)"/>
<circle cx="249.8" cy="218.46" r="4.4" fill="url(#sl)"/>
<circle cx="263.1" cy="218.46" r="4.4" fill="url(#sl)"/>
<circle cx="276.4" cy="218.46" r="4.4" fill="url(#sl)"/>
<circle cx="90.2" cy="231.58" r="4.4" fill="url(#sl)"/>
<circle cx="103.5" cy="231.58" r="4.4" fill="url(#sl)"/>
<circle cx="116.8" cy="231.58" r="4.4" fill="url(#sl)"/>
<circle cx="130.1" cy="231.58" r="4.4" fill="url(#sl)"/>
<circle cx="143.4" cy="231.58" r="4.4" fill="url(#sl)"/>
<circle cx="156.7" cy="231.58" r="4.4" fill="url(#sl)"/>
<circle cx="170" cy="231.58" r="4.4" fill="url(#sl)"/>
<circle cx="183.3" cy="231.58" r="4.4" fill="url(#sl)"/>
<circle cx="196.6" cy="231.58" r="4.4" fill="url(#sl)"/>
<circle cx="209.9" cy="231.58" r="4.4" fill="url(#sl)"/>
<circle cx="223.2" cy="231.58" r="4.4" fill="url(#sl)"/>
<circle cx="236.5" cy="231.58" r="4.4" fill="url(#sl)"/>
<circle cx="249.8" cy="231.58" r="4.4" fill="url(#sl)"/>
<circle cx="263.1" cy="231.58" r="4.4" fill="url(#sd)"/>
<circle cx="276.4" cy="231.58" r="4.4" fill="url(#sd)"/>
<rect x="82.45" y="40.8" width="28.8" height="13.4" rx="2.6" fill="none" stroke="#9f4c20" stroke-width="1.45"/>
<rect x="122.35" y="80.16" width="28.8" height="13.4" rx="2.6" fill="none" stroke="#9f4c20" stroke-width="1.45"/>
<rect x="175.55" y="132.64" width="28.8" height="13.4" rx="2.6" fill="none" stroke="#9f4c20" stroke-width="1.45"/>
<rect x="228.75" y="185.12" width="28.8" height="13.4" rx="2.6" fill="none" stroke="#9f4c20" stroke-width="1.45"/>
<rect x="255.35" y="224.48" width="28.8" height="13.4" rx="2.6" fill="none" stroke="#9f4c20" stroke-width="1.45"/>
<path d="M52.8 32H72.2L85.8 44.5M153.6 84.6L168.9 69.3H294.4M206.2 136.2L222.2 120.5H294.7M256.3 186.9L273.5 170.7H294.7M285.8 231.5H295.1" stroke="#000" stroke-width="1.7" fill="none" stroke-linejoin="miter"/>
<text x="48.2" y="36.8" font-size="9.2" text-anchor="middle" fill="#151515">1</text>
<text x="302.2" y="73.7" font-size="9.2" text-anchor="middle" fill="#151515">2</text>
<text x="302.2" y="124.8" font-size="9.2" text-anchor="middle" fill="#151515">3</text>
<text x="301.7" y="175.7" font-size="9.2" text-anchor="middle" fill="#151515">4</text>
<text x="301.7" y="235.7" font-size="9.2" text-anchor="middle" fill="#151515">5</text>
</g>
<g id="panel-b">
<text x="6.9" y="262.6" font-size="10" text-anchor="start" fill="#151515">(b)</text>
<text x="28.9" y="370" font-size="9.4" text-anchor="middle" fill="#151515" transform="rotate(-90 28.9 370)">Fidelity</text>
<text x="192.3" y="474.4" font-size="9.3" text-anchor="middle" fill="#151515">Pair Index</text>
<rect x="82.9" y="310.1" width="24.7" height="136.7" fill="#037afc" stroke="#14326e" stroke-width="0.9"/>
<path d="M95.25 307.2V312.7M92.25 307.2H98.25M92.25 312.7H98.25" stroke="#222" stroke-width="0.8" fill="none"/>
<text x="95.25" y="460.2" font-size="9.2" text-anchor="middle" fill="#151515">1</text>
<rect x="131.95" y="297.4" width="24.7" height="149.4" fill="#037afc" stroke="#14326e" stroke-width="0.9"/>
<path d="M144.3 294.6V299.6M141.3 294.6H147.3M141.3 299.6H147.3" stroke="#222" stroke-width="0.8" fill="none"/>
<text x="144.3" y="460.2" font-size="9.2" text-anchor="middle" fill="#151515">2</text>
<rect x="181" y="293.4" width="24.7" height="153.4" fill="#037afc" stroke="#14326e" stroke-width="0.9"/>
<path d="M193.35 291V295.5M190.35 291H196.35M190.35 295.5H196.35" stroke="#222" stroke-width="0.8" fill="none"/>
<text x="193.35" y="460.2" font-size="9.2" text-anchor="middle" fill="#151515">3</text>
<rect x="230.05" y="301.5" width="24.7" height="145.3" fill="#037afc" stroke="#14326e" stroke-width="0.9"/>
<path d="M242.4 299.6V302.9M239.4 299.6H245.4M239.4 302.9H245.4" stroke="#222" stroke-width="0.8" fill="none"/>
<text x="242.4" y="460.2" font-size="9.2" text-anchor="middle" fill="#151515">4</text>
<rect x="279.1" y="309.8" width="24.7" height="137" fill="#037afc" stroke="#14326e" stroke-width="0.9"/>
<path d="M291.45 306.5V312.3M288.45 306.5H294.45M288.45 312.3H294.45" stroke="#222" stroke-width="0.8" fill="none"/>
<text x="291.45" y="460.2" font-size="9.2" text-anchor="middle" fill="#151515">5</text>
<path d="M71.3 279.8V446.8H316M66.7 280.2H71.3M68.7 296.86H71.3M66.7 313.52H71.3M68.7 330.18H71.3M66.7 346.84H71.3M68.7 363.5H71.3M66.7 380.16H71.3M68.7 396.82H71.3M66.7 413.48H71.3M68.7 430.14H71.3M66.7 446.8H71.3M95.25 446.8V450.4M119.75 446.8V448.8M144.3 446.8V450.4M168.8 446.8V448.8M193.35 446.8V450.4M217.85 446.8V448.8M242.4 446.8V450.4M266.9 446.8V448.8M291.45 446.8V450.4M315.95 446.8V448.8" stroke="#555" stroke-width="1" fill="none"/>
<text x="61.6" y="283.6" font-size="9.2" text-anchor="end" fill="#151515">100%</text>
<text x="61.6" y="316.92" font-size="9.2" text-anchor="end" fill="#151515">80%</text>
<text x="61.6" y="350.24" font-size="9.2" text-anchor="end" fill="#151515">60%</text>
<text x="61.6" y="383.56" font-size="9.2" text-anchor="end" fill="#151515">40%</text>
<text x="61.6" y="416.88" font-size="9.2" text-anchor="end" fill="#151515">20%</text>
<text x="61.6" y="450.2" font-size="9.2" text-anchor="end" fill="#151515">0%</text>
</g>
<text x="325.5" y="31.6" font-size="10" text-anchor="start" fill="#151515">(c)</text>
<g id="imag">
<path d="M356.52 389.2L356.52 284.4M356.52 389.2L487.72 451.2M385.82 378.2L385.82 273.4M385.82 378.2L517.02 440.2M415.12 367.2L415.12 262.4M415.12 367.2L546.32 429.2M444.42 356.2L444.42 251.4M444.42 356.2L575.62 418.2M344.8 393.6L456.14 351.8M456.14 351.8L587.34 413.8M344.8 341.2L456.14 299.4M456.14 299.4L587.34 361.4M344.8 288.8L456.14 247M456.14 247L587.34 309M472.54 359.55L472.54 254.75M361.2 401.35L472.54 359.55M505.34 375.05L505.34 270.25M394 416.85L505.34 375.05M538.14 390.55L538.14 285.75M426.8 432.35L538.14 390.55M570.94 406.05L570.94 301.25M459.6 447.85L570.94 406.05" stroke="#e3e3e3" stroke-width="0.8" fill="none"/>
<polygon points="435.98,362.15 462.22,374.55 462.22,372.98 435.98,360.58" fill="#f9fb14" stroke="rgba(0,0,0,0.55)" stroke-width="0.65" stroke-linejoin="round"/><polygon points="462.22,374.55 485.66,365.75 485.66,364.18 462.22,372.98" fill="#f9fb14" stroke="rgba(0,0,0,0.55)" stroke-width="0.65" stroke-linejoin="round"/><polygon points="435.98,360.58 462.22,372.98 485.66,364.18 459.42,351.78" fill="#f9fb14" stroke="rgba(0,0,0,0.55)" stroke-width="0.65" stroke-linejoin="round"/>
<polygon points="406.68,373.15 432.92,385.55 432.92,383.98 406.68,371.58" fill="#a5be6b" stroke="rgba(0,0,0,0.55)" stroke-width="0.65" stroke-linejoin="round"/><polygon points="432.92,385.55 456.36,376.75 456.36,375.18 432.92,383.98" fill="#a5be6b" stroke="rgba(0,0,0,0.55)" stroke-width="0.65" stroke-linejoin="round"/><polygon points="406.68,371.58 432.92,383.98 456.36,375.18 430.12,362.78" fill="#a5be6b" stroke="rgba(0,0,0,0.55)" stroke-width="0.65" stroke-linejoin="round"/>
<polygon points="377.38,384.15 403.62,396.55 427.06,387.75 400.82,375.35" fill="#0f9fd5" stroke="rgba(0,0,0,0.55)" stroke-width="0.65" stroke-linejoin="round"/>
<polygon points="348.08,395.15 374.32,407.55 397.76,398.75 371.52,386.35" fill="#352a87" stroke="rgba(0,0,0,0.55)" stroke-width="0.65" stroke-linejoin="round"/>
<polygon points="468.78,377.65 495.02,390.05 518.46,381.25 492.22,368.85" fill="#f9fb14" stroke="rgba(0,0,0,0.55)" stroke-width="0.65" stroke-linejoin="round"/>
<polygon points="439.48,388.65 465.72,401.05 489.16,392.25 462.92,379.85" fill="#a5be6b" stroke="rgba(0,0,0,0.55)" stroke-width="0.65" stroke-linejoin="round"/>
<polygon points="410.18,399.65 436.42,412.05 436.42,411.63 410.18,399.23" fill="#0f9fd5" stroke="rgba(0,0,0,0.55)" stroke-width="0.65" stroke-linejoin="round"/><polygon points="436.42,412.05 459.86,403.25 459.86,402.83 436.42,411.63" fill="#0f9fd5" stroke="rgba(0,0,0,0.55)" stroke-width="0.65" stroke-linejoin="round"/><polygon points="410.18,399.23 436.42,411.63 459.86,402.83 433.62,390.43" fill="#0f9fd5" stroke="rgba(0,0,0,0.55)" stroke-width="0.65" stroke-linejoin="round"/>
<polygon points="380.88,410.65 407.12,423.05 430.56,414.25 404.32,401.85" fill="#352a87" stroke="rgba(0,0,0,0.55)" stroke-width="0.65" stroke-linejoin="round"/>
<polygon points="501.58,393.15 527.82,405.55 551.26,396.75 525.02,384.35" fill="#f9fb14" stroke="rgba(0,0,0,0.55)" stroke-width="0.65" stroke-linejoin="round"/>
<polygon points="472.28,404.15 498.52,416.55 521.96,407.75 495.72,395.35" fill="#a5be6b" stroke="rgba(0,0,0,0.55)" stroke-width="0.65" stroke-linejoin="round"/>
<polygon points="442.98,415.15 469.22,427.55 492.66,418.75 466.42,406.35" fill="#0f9fd5" stroke="rgba(0,0,0,0.55)" stroke-width="0.65" stroke-linejoin="round"/>
<polygon points="413.68,426.15 439.92,438.55 463.36,429.75 437.12,417.35" fill="#352a87" stroke="rgba(0,0,0,0.55)" stroke-width="0.65" stroke-linejoin="round"/>
<polygon points="534.38,408.65 560.62,421.05 584.06,412.25 557.82,399.85" fill="#f9fb14" stroke="rgba(0,0,0,0.55)" stroke-width="0.65" stroke-linejoin="round"/>
<polygon points="505.08,419.65 531.32,432.05 531.32,428.91 505.08,416.51" fill="#a5be6b" stroke="rgba(0,0,0,0.55)" stroke-width="0.65" stroke-linejoin="round"/><polygon points="531.32,432.05 554.76,423.25 554.76,420.11 531.32,428.91" fill="#a5be6b" stroke="rgba(0,0,0,0.55)" stroke-width="0.65" stroke-linejoin="round"/><polygon points="505.08,416.51 531.32,428.91 554.76,420.11 528.52,407.71" fill="#a5be6b" stroke="rgba(0,0,0,0.55)" stroke-width="0.65" stroke-linejoin="round"/>
<polygon points="475.78,430.65 502.02,443.05 525.46,434.25 499.22,421.85" fill="#0f9fd5" stroke="rgba(0,0,0,0.55)" stroke-width="0.65" stroke-linejoin="round"/>
<polygon points="446.48,441.65 472.72,454.05 496.16,445.25 469.92,432.85" fill="#352a87" stroke="rgba(0,0,0,0.55)" stroke-width="0.65" stroke-linejoin="round"/>
<path d="M344.8 393.6L344.8 288.8M344.8 393.6L341.6 392.2M344.8 341.2L341.6 339.8M344.8 288.8L341.6 287.4" stroke="#8c8c8c" stroke-width="1.3" fill="none"/>
<path d="M344.8 393.6L476 455.6M476 455.6L587.34 413.8M361.2 401.35L358.77 402.26M394 416.85L391.57 417.76M426.8 432.35L424.37 433.26M459.6 447.85L457.17 448.76M487.72 451.2L490.07 452.31M517.02 440.2L519.37 441.31M546.32 429.2L548.67 430.31M575.62 418.2L577.97 419.31" stroke="#b4b4b4" stroke-width="1" fill="none"/>
<text x="335.8" y="394.5" font-size="9.3" text-anchor="end" fill="#151515">0</text>
<text x="335.8" y="342.1" font-size="9.3" text-anchor="end" fill="#151515">0.5</text>
<text x="335.8" y="289.7" font-size="9.3" text-anchor="end" fill="#151515">1</text>
<text x="347.1" y="414.3" font-size="9.3" text-anchor="middle" fill="#151515" font-style="italic">UU</text>
<text x="500.1" y="465" font-size="9.3" text-anchor="middle" fill="#151515" font-style="italic">UU</text>
<text x="381" y="429.9" font-size="9.3" text-anchor="middle" fill="#151515" font-style="italic">UD</text>
<text x="529.3" y="454.5" font-size="9.3" text-anchor="middle" fill="#151515" font-style="italic">UD</text>
<text x="415.5" y="445.2" font-size="9.3" text-anchor="middle" fill="#151515" font-style="italic">DU</text>
<text x="559.4" y="443.7" font-size="9.3" text-anchor="middle" fill="#151515" font-style="italic">DU</text>
<text x="449.4" y="460.8" font-size="9.3" text-anchor="middle" fill="#151515" font-style="italic">DD</text>
<text x="590.6" y="432.4" font-size="9.3" text-anchor="middle" fill="#151515" font-style="italic">DD</text>
<text x="575.5" y="276.5" font-size="9.43" text-anchor="middle" fill="#151515">Imaginary part</text>
</g>
<g id="real">
<path d="M356.8 167.88L356.8 62.58M356.8 167.88L481.4 230.28M384.8 156.83L384.8 51.53M384.8 156.83L509.4 219.23M412.8 145.78L412.8 40.48M412.8 145.78L537.4 208.18M440.8 134.73L440.8 29.43M440.8 134.73L565.4 197.13M345.6 172.3L452 130.31M452 130.31L576.6 192.71M345.6 119.65L452 77.66M452 77.66L576.6 140.06M345.6 67L452 25.01M452 25.01L576.6 87.41M467.58 138.11L467.58 32.81M361.18 180.1L467.58 138.11M498.73 153.71L498.73 48.41M392.33 195.7L498.73 153.71M529.88 169.31L529.88 64.01M423.48 211.3L529.88 169.31M561.02 184.91L561.02 79.61M454.62 226.9L561.02 184.91" stroke="#e3e3e3" stroke-width="0.8" fill="none"/>
<polygon points="432.72,140.71 455.12,131.87 455.12,79.22 432.72,88.06" fill="#f9fb14" fill-opacity="0.11" stroke="rgba(0,0,0,0.42)" stroke-width="0.55" stroke-linejoin="round"/><polygon points="455.12,131.87 480.03,144.35 480.03,91.7 455.12,79.22" fill="#f9fb14" fill-opacity="0.11" stroke="rgba(0,0,0,0.42)" stroke-width="0.55" stroke-linejoin="round"/>
<polygon points="432.72,140.71 457.63,153.19 457.63,105.28 432.72,92.8" fill="#f9fb14" stroke="rgba(0,0,0,0.55)" stroke-width="0.65" stroke-linejoin="round"/><polygon points="457.63,153.19 480.03,144.35 480.03,96.44 457.63,105.28" fill="#f9fb14" stroke="rgba(0,0,0,0.55)" stroke-width="0.65" stroke-linejoin="round"/><polygon points="432.72,92.8 457.63,105.28 480.03,96.44 455.12,83.96" fill="#f9fb14" stroke="rgba(0,0,0,0.55)" stroke-width="0.65" stroke-linejoin="round"/>
<polygon points="432.72,140.71 457.63,153.19 457.63,100.54 432.72,88.06" fill="#f9fb14" fill-opacity="0.11" stroke="rgba(0,0,0,0.42)" stroke-width="0.55" stroke-linejoin="round"/><polygon points="457.63,153.19 480.03,144.35 480.03,91.7 457.63,100.54" fill="#f9fb14" fill-opacity="0.11" stroke="rgba(0,0,0,0.42)" stroke-width="0.55" stroke-linejoin="round"/><polygon points="432.72,88.06 457.63,100.54 480.03,91.7 455.12,79.22" fill="#f9fb14" fill-opacity="0.11" stroke="rgba(0,0,0,0.42)" stroke-width="0.55" stroke-linejoin="round"/>
<polygon points="404.72,151.76 429.63,164.24 452.03,155.4 427.12,142.92" fill="#a5be6b" stroke="rgba(0,0,0,0.55)" stroke-width="0.65" stroke-linejoin="round"/>
<polygon points="376.72,162.81 401.63,175.29 401.63,172.97 376.72,160.49" fill="#0f9fd5" stroke="rgba(0,0,0,0.55)" stroke-width="0.65" stroke-linejoin="round"/><polygon points="401.63,175.29 424.03,166.45 424.03,164.13 401.63,172.97" fill="#0f9fd5" stroke="rgba(0,0,0,0.55)" stroke-width="0.65" stroke-linejoin="round"/><polygon points="376.72,160.49 401.63,172.97 424.03,164.13 399.12,151.65" fill="#0f9fd5" stroke="rgba(0,0,0,0.55)" stroke-width="0.65" stroke-linejoin="round"/>
<polygon points="348.72,173.86 373.63,186.34 373.63,134.74 348.72,122.26" fill="#352a87" stroke="rgba(0,0,0,0.55)" stroke-width="0.65" stroke-linejoin="round"/><polygon points="373.63,186.34 396.03,177.5 396.03,125.9 373.63,134.74" fill="#352a87" stroke="rgba(0,0,0,0.55)" stroke-width="0.65" stroke-linejoin="round"/><polygon points="348.72,122.26 373.63,134.74 396.03,125.9 371.12,113.42" fill="#352a87" stroke="rgba(0,0,0,0.55)" stroke-width="0.65" stroke-linejoin="round"/>
<polygon points="463.87,156.31 488.79,168.79 511.19,159.95 486.26,147.47" fill="#f9fb14" stroke="rgba(0,0,0,0.55)" stroke-width="0.65" stroke-linejoin="round"/>
<polygon points="435.87,170.52 460.79,183 460.79,179.84 435.87,167.36" fill="#a5be6b" stroke="rgba(0,0,0,0.55)" stroke-width="0.65" stroke-linejoin="round"/><polygon points="460.79,183 483.19,174.16 483.19,171 460.79,179.84" fill="#a5be6b" stroke="rgba(0,0,0,0.55)" stroke-width="0.65" stroke-linejoin="round"/><polygon points="435.87,167.36 460.79,179.84 483.19,171 458.26,158.52" fill="#a5be6b" stroke="rgba(0,0,0,0.55)" stroke-width="0.65" stroke-linejoin="round"/>
<polygon points="407.87,178.41 432.79,190.89 432.79,188.78 407.87,176.3" fill="#0f9fd5" stroke="rgba(0,0,0,0.55)" stroke-width="0.65" stroke-linejoin="round"/><polygon points="432.79,190.89 455.19,182.05 455.19,179.94 432.79,188.78" fill="#0f9fd5" stroke="rgba(0,0,0,0.55)" stroke-width="0.65" stroke-linejoin="round"/><polygon points="407.87,176.3 432.79,188.78 455.19,179.94 430.26,167.46" fill="#0f9fd5" stroke="rgba(0,0,0,0.55)" stroke-width="0.65" stroke-linejoin="round"/>
<polygon points="379.87,189.46 404.79,201.94 404.79,200.68 379.87,188.2" fill="#352a87" stroke="rgba(0,0,0,0.55)" stroke-width="0.65" stroke-linejoin="round"/><polygon points="404.79,201.94 427.19,193.1 427.19,191.84 404.79,200.68" fill="#352a87" stroke="rgba(0,0,0,0.55)" stroke-width="0.65" stroke-linejoin="round"/><polygon points="379.87,188.2 404.79,200.68 427.19,191.84 402.26,179.36" fill="#352a87" stroke="rgba(0,0,0,0.55)" stroke-width="0.65" stroke-linejoin="round"/>
<polygon points="495.02,171.91 519.93,184.39 542.34,175.55 517.42,163.07" fill="#f9fb14" stroke="rgba(0,0,0,0.55)" stroke-width="0.65" stroke-linejoin="round"/>
<polygon points="467.02,186.12 491.94,198.6 491.94,195.44 467.02,182.96" fill="#a5be6b" stroke="rgba(0,0,0,0.55)" stroke-width="0.65" stroke-linejoin="round"/><polygon points="491.94,198.6 514.34,189.76 514.34,186.6 491.94,195.44" fill="#a5be6b" stroke="rgba(0,0,0,0.55)" stroke-width="0.65" stroke-linejoin="round"/><polygon points="467.02,182.96 491.94,195.44 514.34,186.6 489.42,174.12" fill="#a5be6b" stroke="rgba(0,0,0,0.55)" stroke-width="0.65" stroke-linejoin="round"/>
<polygon points="439.02,194.01 463.94,206.49 486.33,197.65 461.42,185.17" fill="#0f9fd5" stroke="rgba(0,0,0,0.55)" stroke-width="0.65" stroke-linejoin="round"/>
<polygon points="411.02,205.06 435.94,217.54 435.94,216.7 411.02,204.22" fill="#352a87" stroke="rgba(0,0,0,0.55)" stroke-width="0.65" stroke-linejoin="round"/><polygon points="435.94,217.54 458.33,208.7 458.33,207.86 435.94,216.7" fill="#352a87" stroke="rgba(0,0,0,0.55)" stroke-width="0.65" stroke-linejoin="round"/><polygon points="411.02,204.22 435.94,216.7 458.33,207.86 433.42,195.38" fill="#352a87" stroke="rgba(0,0,0,0.55)" stroke-width="0.65" stroke-linejoin="round"/>
<polygon points="526.16,187.51 548.57,178.67 548.57,126.02 526.16,134.86" fill="#f9fb14" fill-opacity="0.11" stroke="rgba(0,0,0,0.42)" stroke-width="0.55" stroke-linejoin="round"/><polygon points="548.57,178.67 573.49,191.15 573.49,138.5 548.57,126.02" fill="#f9fb14" fill-opacity="0.11" stroke="rgba(0,0,0,0.42)" stroke-width="0.55" stroke-linejoin="round"/>
<polygon points="526.16,187.51 551.09,199.99 551.09,151.55 526.16,139.07" fill="#f9fb14" stroke="rgba(0,0,0,0.55)" stroke-width="0.65" stroke-linejoin="round"/><polygon points="551.09,199.99 573.49,191.15 573.49,142.71 551.09,151.55" fill="#f9fb14" stroke="rgba(0,0,0,0.55)" stroke-width="0.65" stroke-linejoin="round"/><polygon points="526.16,139.07 551.09,151.55 573.49,142.71 548.57,130.23" fill="#f9fb14" stroke="rgba(0,0,0,0.55)" stroke-width="0.65" stroke-linejoin="round"/>
<polygon points="526.16,187.51 551.09,199.99 551.09,147.34 526.16,134.86" fill="#f9fb14" fill-opacity="0.11" stroke="rgba(0,0,0,0.42)" stroke-width="0.55" stroke-linejoin="round"/><polygon points="551.09,199.99 573.49,191.15 573.49,138.5 551.09,147.34" fill="#f9fb14" fill-opacity="0.11" stroke="rgba(0,0,0,0.42)" stroke-width="0.55" stroke-linejoin="round"/><polygon points="526.16,134.86 551.09,147.34 573.49,138.5 548.57,126.02" fill="#f9fb14" fill-opacity="0.11" stroke="rgba(0,0,0,0.42)" stroke-width="0.55" stroke-linejoin="round"/>
<polygon points="498.17,199.4 523.09,211.88 523.09,211.04 498.17,198.56" fill="#a5be6b" stroke="rgba(0,0,0,0.55)" stroke-width="0.65" stroke-linejoin="round"/><polygon points="523.09,211.88 545.49,203.04 545.49,202.2 523.09,211.04" fill="#a5be6b" stroke="rgba(0,0,0,0.55)" stroke-width="0.65" stroke-linejoin="round"/><polygon points="498.17,198.56 523.09,211.04 545.49,202.2 520.57,189.72" fill="#a5be6b" stroke="rgba(0,0,0,0.55)" stroke-width="0.65" stroke-linejoin="round"/>
<polygon points="470.17,209.61 495.09,222.09 517.49,213.25 492.56,200.77" fill="#0f9fd5" stroke="rgba(0,0,0,0.55)" stroke-width="0.65" stroke-linejoin="round"/>
<polygon points="442.17,220.66 464.56,211.82 464.56,159.17 442.17,168.01" fill="#352a87" fill-opacity="0.11" stroke="rgba(0,0,0,0.42)" stroke-width="0.55" stroke-linejoin="round"/><polygon points="464.56,211.82 489.49,224.3 489.49,171.65 464.56,159.17" fill="#352a87" fill-opacity="0.11" stroke="rgba(0,0,0,0.42)" stroke-width="0.55" stroke-linejoin="round"/>
<polygon points="442.17,220.66 467.09,233.14 467.09,185.23 442.17,172.75" fill="#352a87" stroke="rgba(0,0,0,0.55)" stroke-width="0.65" stroke-linejoin="round"/><polygon points="467.09,233.14 489.49,224.3 489.49,176.39 467.09,185.23" fill="#352a87" stroke="rgba(0,0,0,0.55)" stroke-width="0.65" stroke-linejoin="round"/><polygon points="442.17,172.75 467.09,185.23 489.49,176.39 464.56,163.91" fill="#352a87" stroke="rgba(0,0,0,0.55)" stroke-width="0.65" stroke-linejoin="round"/>
<polygon points="442.17,220.66 467.09,233.14 467.09,180.49 442.17,168.01" fill="#352a87" fill-opacity="0.11" stroke="rgba(0,0,0,0.42)" stroke-width="0.55" stroke-linejoin="round"/><polygon points="467.09,233.14 489.49,224.3 489.49,171.65 467.09,180.49" fill="#352a87" fill-opacity="0.11" stroke="rgba(0,0,0,0.42)" stroke-width="0.55" stroke-linejoin="round"/><polygon points="442.17,168.01 467.09,180.49 489.49,171.65 464.56,159.17" fill="#352a87" fill-opacity="0.11" stroke="rgba(0,0,0,0.42)" stroke-width="0.55" stroke-linejoin="round"/>
<path d="M345.6 172.3L345.6 67M345.6 172.3L342.4 170.9M345.6 119.65L342.4 118.25M345.6 67L342.4 65.6" stroke="#8c8c8c" stroke-width="1.3" fill="none"/>
<path d="M345.6 172.3L470.2 234.7M470.2 234.7L576.6 192.71M361.18 180.1L358.76 181.05M392.33 195.7L389.91 196.65M423.48 211.3L421.06 212.25M454.62 226.9L452.21 227.85M481.4 230.28L483.72 231.44M509.4 219.23L511.72 220.39M537.4 208.18L539.72 209.34M565.4 197.13L567.72 198.29" stroke="#b4b4b4" stroke-width="1" fill="none"/>
<text x="335.8" y="173.2" font-size="9.3" text-anchor="end" fill="#151515">0</text>
<text x="335.8" y="120.55" font-size="9.3" text-anchor="end" fill="#151515">0.5</text>
<text x="335.8" y="67.9" font-size="9.3" text-anchor="end" fill="#151515">1</text>
<text x="346.4" y="192.8" font-size="9.3" text-anchor="middle" fill="#151515" font-style="italic">UU</text>
<text x="493.3" y="243.9" font-size="9.3" text-anchor="middle" fill="#151515" font-style="italic">UU</text>
<text x="379" y="207.9" font-size="9.3" text-anchor="middle" fill="#151515" font-style="italic">UD</text>
<text x="521.5" y="233.8" font-size="9.3" text-anchor="middle" fill="#151515" font-style="italic">UD</text>
<text x="411.2" y="223.8" font-size="9.3" text-anchor="middle" fill="#151515" font-style="italic">DU</text>
<text x="549.9" y="222" font-size="9.3" text-anchor="middle" fill="#151515" font-style="italic">DU</text>
<text x="443.9" y="239.3" font-size="9.3" text-anchor="middle" fill="#151515" font-style="italic">DD</text>
<text x="578.8" y="211.2" font-size="9.3" text-anchor="middle" fill="#151515" font-style="italic">DD</text>
<text x="562.5" y="58.2" font-size="9.35" text-anchor="middle" fill="#151515">Real part</text>
</g>
</svg>
</body></html>
